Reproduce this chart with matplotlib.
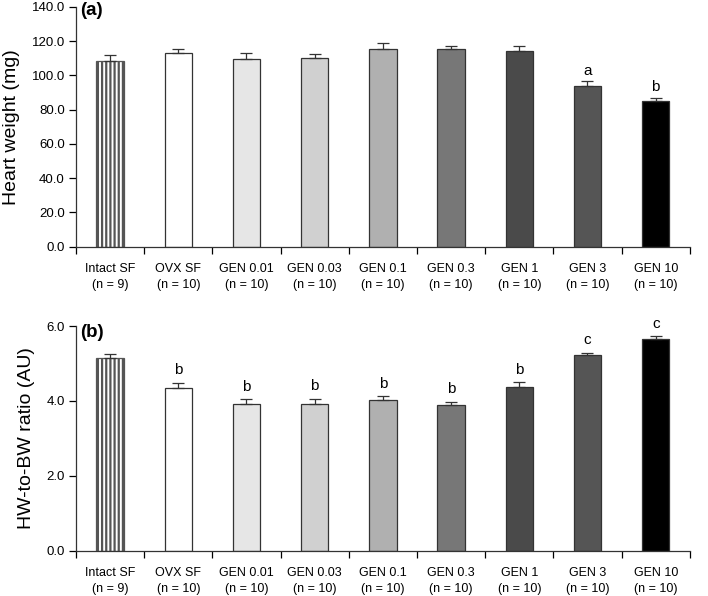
import numpy as np
import matplotlib.pyplot as plt

plt.rcParams['font.family'] = ['Liberation Sans', 'DejaVu Sans']
plt.rcParams['hatch.linewidth'] = 1.6
plt.rcParams['hatch.color'] = 'black'

groups = ['Intact SF', 'OVX SF', 'GEN 0.01', 'GEN 0.03', 'GEN 0.1',
          'GEN 0.3', 'GEN 1', 'GEN 3', 'GEN 10']
n_counts = [9, 10, 10, 10, 10, 10, 10, 10, 10]

heart_weight = [108.6, 112.8, 109.6, 110.2, 115.2, 115.2, 114.4, 93.6, 85.0]
heart_weight_err = [3.0, 2.4, 3.3, 2.3, 3.6, 2.0, 2.8, 2.8, 2.0]
heart_weight_sig = ['', '', '', '', '', '', '', 'a', 'b']

hw_bw_ratio = [5.15, 4.34, 3.91, 3.91, 4.02, 3.89, 4.36, 5.23, 5.64]
hw_bw_err = [0.09, 0.15, 0.13, 0.15, 0.10, 0.09, 0.15, 0.06, 0.09]
hw_bw_sig = ['', 'b', 'b', 'b', 'b', 'b', 'b', 'c', 'c']

bar_colors = ['white', 'white', '#e6e6e6', '#d0d0d0', '#b0b0b0',
              '#777777', '#4a4a4a', '#555555', '#000000']

xlabels = [f'{g}\n(n = {n})' for g, n in zip(groups, n_counts)]


def draw_panel(ax, values, errs, sigs, ymax, step, ylabel, tag, sig_offset,
               tag_y):
    x = np.arange(len(values)) + 0.5
    bars = ax.bar(x, values, width=0.4, color=bar_colors,
                  edgecolor='#333333', linewidth=0.9, zorder=2)
    bars[0].set_hatch('||||')
    bars[0].set_edgecolor('#555555')
    ax.errorbar(x, values, yerr=[np.zeros(len(errs)), errs], fmt='none',
                ecolor='#333333', elinewidth=0.9, capsize=4, capthick=0.9,
                zorder=3)
    for xi, v, e, s in zip(x, values, errs, sigs):
        if s:
            ax.text(xi, v + e + sig_offset, s, ha='center', va='bottom',
                    fontsize=11)

    ticks = np.arange(0, ymax + step / 2, step)
    ax.set_xlim(0, len(values))
    ax.set_ylim(0, ymax)
    ax.set_yticks(ticks)
    ax.set_yticklabels([f'{t:.1f}' for t in ticks], fontsize=9.5)
    ax.set_xticks(np.arange(len(values) + 1))
    ax.set_xticklabels([])
    ax.set_xticks(x, minor=True)
    ax.set_xticklabels(xlabels, minor=True, fontsize=9, linespacing=1.4)
    ax.tick_params(axis='x', which='minor', length=0, pad=12)
    ax.tick_params(axis='x', which='major', length=5, width=0.9,
                   direction='out')
    ax.tick_params(axis='y', length=5, width=0.9, direction='out', pad=3)
    for side in ['top', 'right']:
        ax.spines[side].set_visible(False)
    for side in ['left', 'bottom']:
        ax.spines[side].set_linewidth(0.9)
        ax.spines[side].set_color('#333333')
    ax.set_ylabel(ylabel, fontsize=14, labelpad=8)
    ax.text(0.007, tag_y, tag, transform=ax.transAxes, fontsize=13.5,
            fontweight='bold', ha='left', va='center')


fig = plt.figure(figsize=(7.08, 5.96), dpi=100)
ax1 = fig.add_axes([0.1073, 0.586, 0.867, 0.4027])
ax2 = fig.add_axes([0.1073, 0.076, 0.867, 0.377])

draw_panel(ax1, heart_weight, heart_weight_err, heart_weight_sig, 140, 20,
           'Heart weight (mg)', '(a)', 2.0, 0.985)
draw_panel(ax2, hw_bw_ratio, hw_bw_err, hw_bw_sig, 6.0, 2.0,
           'HW-to-BW ratio (AU)', '(b)', 0.14, 0.97)

fig.savefig('out.png', dpi=100)
